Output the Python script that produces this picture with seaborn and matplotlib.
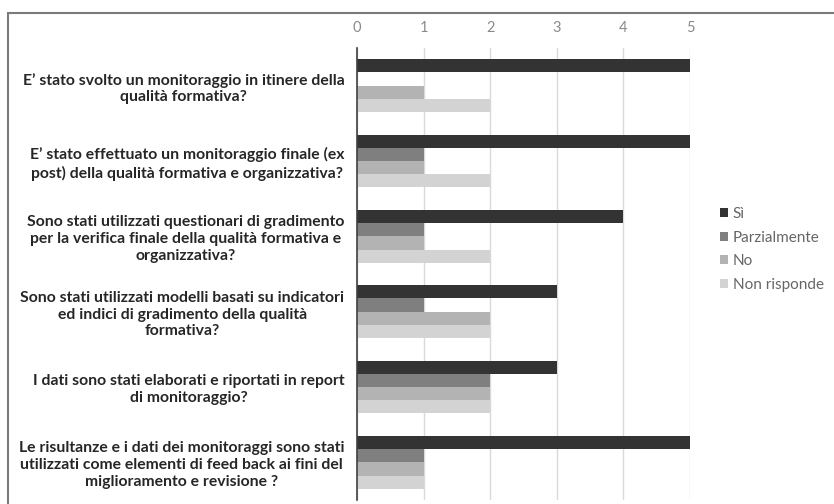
import numpy as np
import matplotlib.pyplot as plt
import seaborn as sns
import pandas as pd
from matplotlib.lines import Line2D

# data
domande = [
    "E\u2019 stato svolto un monitoraggio in itinere della\nqualità formativa?",
    "E\u2019 stato effettuato un monitoraggio finale (ex\npost) della qualità formativa e organizzativa?",
    "Sono stati utilizzati questionari di gradimento\nper la verifica finale della qualità formativa e\norganizzativa?",
    "Sono stati utilizzati modelli basati su indicatori\ned indici di gradimento della qualità\nformativa?",
    "I dati sono stati elaborati e riportati in report\ndi monitoraggio?",
    "Le risultanze e i dati dei monitoraggi sono stati\nutilizzati come elementi di feed back ai fini del\nmiglioramento e revisione ?",
]
risposte = ["Sì", "Parzialmente", "No", "Non risponde"]
si = [5, 5, 4, 3, 3, 5]
parzialmente = [0, 1, 1, 1, 2, 1]
no = [1, 1, 1, 2, 2, 1]
non_risponde = [2, 2, 2, 2, 2, 1]
colori = ["#333333", "#7f7f7f", "#b3b3b3", "#d3d3d3"]

df = pd.DataFrame({"domanda": domande, "Sì": si, "Parzialmente": parzialmente,
                   "No": no, "Non risponde": non_risponde})
df = df.melt(id_vars="domanda", var_name="risposta", value_name="n")

sns.set_style("white")
plt.rcParams['font.family'] = ['Lato', 'DejaVu Sans']

fig = plt.figure(figsize=(8.34, 5.04), dpi=100)
ax = fig.add_axes([357/834, 1 - 500/504, 333/834, 452/504])

sns.barplot(data=df, y="domanda", x="n", hue="risposta", hue_order=risposte,
            palette=colori, orient="h", width=0.7, linewidth=0, ax=ax)

ax.set_xlim(0, 5)
ax.set_xticks(range(6))
ax.xaxis.tick_top()
ax.tick_params(axis="x", length=0, pad=9, labelsize=10.5, labelcolor="#8a8a8a")
ax.tick_params(axis="y", length=0, pad=9, labelsize=11.3, labelcolor="#262626")
for lbl in ax.get_yticklabels():
    lbl.set_multialignment("center")
    lbl.set_fontweight("bold")
    lbl.set_linespacing(1.25)
ax.set_xlabel("")
ax.set_ylabel("")
ax.grid(axis="x", color="#d9d9d9", lw=1)
ax.set_axisbelow(True)
for s in ["top", "right", "bottom"]:
    ax.spines[s].set_visible(False)
ax.spines["left"].set_color("#404040")
ax.spines["left"].set_linewidth(1.2)

leg = ax.legend(loc="center left", bbox_to_anchor=(706/834, 0.505), bbox_transform=fig.transFigure,
                frameon=False, fontsize=11, handlelength=0.55, handleheight=0.55,
                handletextpad=0.3, labelspacing=0.62)
for t in leg.get_texts():
    t.set_color("#666666")

# outer frame
fig.add_artist(Line2D([8/834, 1], [1 - 13/504, 1 - 13/504], transform=fig.transFigure,
                      color="#7a7a7a", lw=1.5))
fig.add_artist(Line2D([8/834, 8/834], [0, 1 - 13/504], transform=fig.transFigure,
                      color="#7a7a7a", lw=1.5))

fig.savefig("out.png", dpi=100)
